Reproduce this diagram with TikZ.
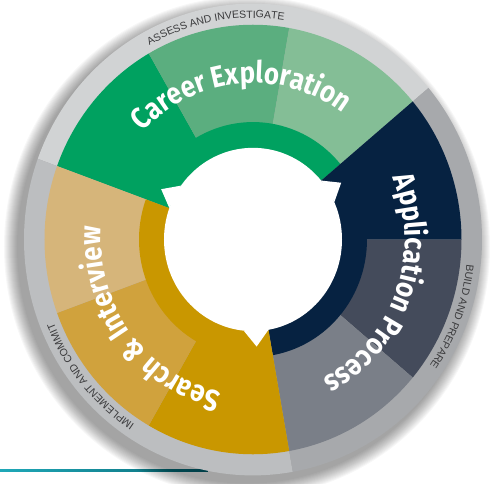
\documentclass[tikz,border=0pt]{standalone}
\usepackage{fontspec}
\usetikzlibrary{decorations.text}
\newfontfamily\wheelfont[FakeStretch=0.86]{Fira Sans}
\newfontfamily\ringfont{Liberation Sans}
\definecolor{G1}{HTML}{00A160}
\definecolor{G2}{HTML}{5BAE7F}
\definecolor{G3}{HTML}{84BE96}
\definecolor{N1}{HTML}{062241}
\definecolor{N2}{HTML}{444B5B}
\definecolor{N3}{HTML}{7A7F88}
\definecolor{Y1}{HTML}{C99700}
\definecolor{Y2}{HTML}{D0A23D}
\definecolor{Y3}{HTML}{D6B57A}
\definecolor{RA}{HTML}{D1D3D4}
\definecolor{RB}{HTML}{A7A9AC}
\definecolor{RC}{HTML}{BCBEC0}
\definecolor{ringtext}{HTML}{3A3A3C}
\definecolor{teal1}{HTML}{1FA8B8}
\definecolor{teal2}{HTML}{0B6C78}
\newcommand{\wseg}[5]{\fill[#5] (#1:#3) arc[start angle=#1, end angle=#2, radius=#3] -- (#2:#4) arc[start angle=#2, end angle=#1, radius=#4] -- cycle;}
\tikzset{
  bigtext/.style={decorate, decoration={text along path, text align=center, text color=white,
     text={|\wheelfont\bfseries\fontsize{30}{30}\selectfont|#1}}},
  ringlabel/.style={decorate, decoration={text along path, text align=center, text color=ringtext,
     text={|\ringfont\fontsize{10.5}{10.5}\selectfont|#1}}},
}
\begin{document}
\begin{tikzpicture}[x=1pt,y=1pt]
\useasboundingbox (-253,-243.5) rectangle (237,239.5);
% teal rule
\shade[left color=teal1, right color=teal2] (-253,-232.2) rectangle (-45,-230);
\begin{scope}[yscale=1.03]
  % soft drop shadow
  \foreach \k in {0,...,13} {\fill[black,opacity=0.032] (-6,-7) circle (243-\k);}
  % outer ring
  \wseg{40}{160}{208}{229}{RA}
  \wseg{160}{280}{208}{229}{RC}
  \wseg{-80}{40}{208}{229}{RB}
  % career exploration
  \wseg{120}{160}{113}{208.5}{G1}
  \wseg{80}{120}{113}{208.5}{G2}
  \wseg{40}{80}{113}{208.5}{G3}
  \wseg{40}{160}{85}{114}{G1}
  % application process
  \wseg{0}{40}{113}{208.5}{N1}
  \wseg{-40}{0}{113}{208.5}{N2}
  \wseg{-80}{-40}{113}{208.5}{N3}
  \wseg{-80}{40}{85}{114}{N1}
  % search and interview
  \wseg{240}{280}{113}{208.5}{Y1}
  \wseg{200}{240}{113}{208.5}{Y2}
  \wseg{160}{200}{113}{208.5}{Y3}
  \wseg{160}{280}{85}{114}{Y1}
  % white hub with arrow tips
  \fill[white] (0,0) circle (89);
  \foreach \b in {40,160,280} {\fill[white] (\b:89) -- (\b-8:104) -- (\b-16:89) -- cycle;}
  % big labels
  \path[bigtext={Career Exploration}] (165:152) arc[start angle=165, end angle=25, radius=152];
  \path[bigtext={Application Process}] (50:152) arc[start angle=50, end angle=-90, radius=152];
  \path[bigtext={Search {\&} Interview}] (287:152) arc[start angle=287, end angle=147, radius=152];
  % ring labels
  \path[ringlabel={ASSESS AND INVESTIGATE}] (170:215) arc[start angle=170, end angle=30, radius=215];
  \path[ringlabel={BUILD AND PREPARE}] (49:215) arc[start angle=49, end angle=-91, radius=215];
  \path[ringlabel={IMPLEMENT AND COMMIT}] (290:215) arc[start angle=290, end angle=150, radius=215];
\end{scope}
\end{tikzpicture}
\end{document}
